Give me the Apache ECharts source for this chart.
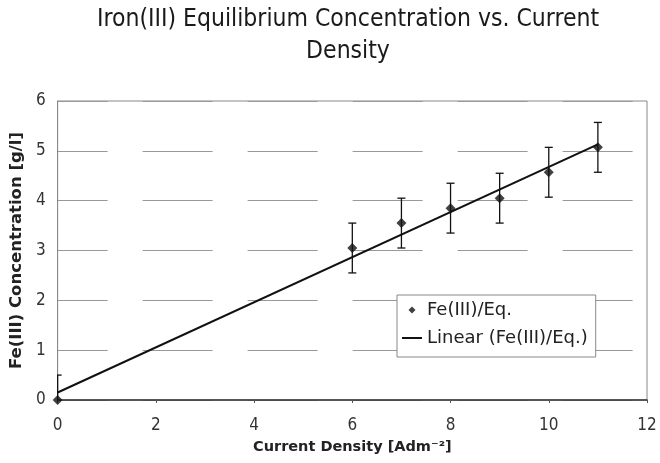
<!DOCTYPE html>
<html>
<head>
<meta charset="utf-8">
<script src="https://cdn.jsdelivr.net/npm/echarts@6/dist/echarts.min.js"></script>
<style>
  html, body { margin: 0; padding: 0; background: #fff; }
  #chart { width: 660px; height: 463px; }
</style>
</head>
<body>
<div id="chart"></div>
<script>
    // values
    var currentDensity = [0, 6, 7, 8, 9, 10, 11];
    var feConc = [0, 3.05, 3.55, 3.85, 4.05, 4.57, 5.07];
    var errorAmount = [0.5, 0.5, 0.5, 0.5, 0.5, 0.5, 0.5];
    var trendX = [0, 11];
    var trendY = [0.15, 5.13];
    var xTicks = [0, 2, 4, 6, 8, 10, 12];
    var yTicks = [0, 1, 2, 3, 4, 5, 6];

    var points = currentDensity.map(function (x, i) { return [x, feConc[i]]; });
    var errors = currentDensity.map(function (x, i) {
        return [x, feConc[i] - errorAmount[i], feConc[i] + errorAmount[i]];
    });
    var trend = trendX.map(function (x, i) { return [x, trendY[i]]; });

    var chart = echarts.init(document.getElementById('chart'));
    var narrow = 'DejaVu Sans Condensed, DejaVu Sans';
    var wide = 'DejaVu Sans';

    chart.setOption({
        animation: false,
        title: {
            text: 'Iron(III) Equilibrium Concentration vs. Current\nDensity',
            left: 348,
            textAlign: 'center',
            top: 4,
            padding: 0,
            textStyle: {
                fontFamily: narrow,
                fontSize: 24.5,
                fontWeight: 'normal',
                color: '#1a1a1a',
                lineHeight: 32
            }
        },
        legend: {
            orient: 'vertical',
            left: 397,
            top: 295,
            padding: [6, 8, 10, 5],
            itemGap: 10,
            itemWidth: 20,
            itemHeight: 12,
            backgroundColor: '#fff',
            borderColor: '#888',
            borderWidth: 1,
            textStyle: { fontFamily: wide, fontSize: 18, color: '#222', lineHeight: 18 },
            data: [
                { name: 'Fe(III)/Eq.', icon: 'path://M0,0 L0,0 M20,12 L20,12 M10,2.5 L13.5,6 L10,9.5 L6.5,6 Z' },
                { name: 'Linear (Fe(III)/Eq.)', icon: 'path://M0,5 L20,5 L20,7 L0,7 Z' }
            ]
        },
        grid: {
            left: 55,
            right: 13,
            top: 101,
            bottom: 63,
            show: true,
            borderColor: '#888',
            borderWidth: 1
        },
        xAxis: {
            type: 'value',
            min: 0,
            max: 12,
            interval: 2,
            name: 'Current Density [Adm\u207B\u00B2]',
            nameLocation: 'middle',
            nameGap: 40,
            nameTextStyle: { fontFamily: wide, fontSize: 14.5, fontWeight: 'bold', color: '#222' },
            axisLine: { lineStyle: { color: '#333', width: 1.5 } },
            axisTick: { show: true, length: 3, lineStyle: { color: '#555' } },
            axisLabel: { fontFamily: narrow, fontSize: 17, color: '#333', margin: 17,
                formatter: function (v) { return xTicks.indexOf(v) >= 0 ? String(v) : ''; } },
            splitLine: { show: false }
        },
        yAxis: {
            type: 'value',
            min: 0,
            max: 6,
            interval: 1,
            name: 'Fe(III) Concentration [g/l]',
            nameLocation: 'middle',
            nameGap: 27,
            nameTextStyle: { fontFamily: wide, fontSize: 16.5, fontWeight: 'bold', color: '#222' },
            axisLine: { show: true, lineStyle: { color: '#888', width: 1 } },
            axisTick: { show: false },
            axisLabel: { fontFamily: narrow, fontSize: 17, color: '#333', margin: 12,
                formatter: function (v) { return yTicks.indexOf(v) >= 0 ? String(v) : ''; } },
            splitLine: {
                show: true,
                lineStyle: { color: '#999', width: 1, type: [70, 35], dashOffset: 20 }
            }
        },
        series: [
            {
                name: 'Linear (Fe(III)/Eq.)',
                type: 'line',
                data: trend,
                symbol: 'none',
                lineStyle: { color: '#111', width: 2 },
                itemStyle: { color: '#111' },
                z: 2
            },
            {
                name: 'error',
                type: 'custom',
                data: errors,
                clip: true,
                renderItem: function (params, api) {
                    var x = api.value(0);
                    var lo = api.coord([x, api.value(1)]);
                    var hi = api.coord([x, api.value(2)]);
                    var cap = 4;
                    var style = { stroke: '#111', lineWidth: 1.3 };
                    return {
                        type: 'group',
                        children: [
                            { type: 'line', shape: { x1: hi[0], y1: hi[1], x2: lo[0], y2: lo[1] }, style: style },
                            { type: 'line', shape: { x1: hi[0] - cap, y1: hi[1], x2: hi[0] + cap, y2: hi[1] }, style: style },
                            { type: 'line', shape: { x1: lo[0] - cap, y1: lo[1], x2: lo[0] + cap, y2: lo[1] }, style: style }
                        ]
                    };
                },
                encode: { x: 0, y: [1, 2] },
                z: 3
            },
            {
                name: 'Fe(III)/Eq.',
                type: 'scatter',
                data: points,
                symbol: 'diamond',
                symbolSize: 10,
                clip: false,
                itemStyle: { color: '#111' },
                z: 4
            }
        ]
    });
</script>
</body>
</html>
